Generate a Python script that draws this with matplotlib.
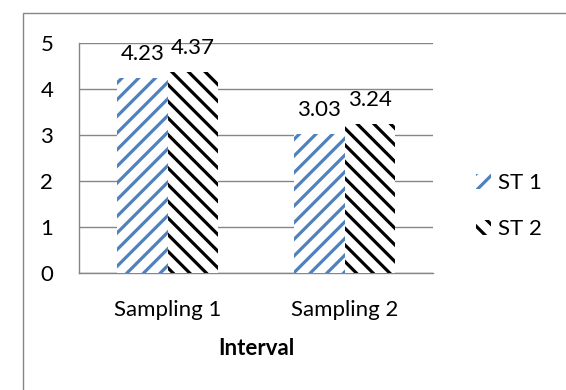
import matplotlib
matplotlib.use("Agg")
import matplotlib.pyplot as plt
from matplotlib.patches import Rectangle, Patch
import numpy as np

categories = ["Sampling 1", "Sampling 2"]
st1 = [4.23, 3.03]
st2 = [4.37, 3.24]
series_names = ["ST 1", "ST 2"]
yticks = [0, 1, 2, 3, 4, 5]
xlabel = "Interval"

plt.rcParams['font.family'] = ['Lato', 'DejaVu Sans']
plt.rcParams['hatch.linewidth'] = 2.3

FS = 16
W, H = 566, 390
fig = plt.figure(figsize=(W / 100, H / 100), dpi=100)
fig.patch.set_facecolor('white')

# outer chart frame
fig.add_artist(Rectangle((23 / W, -0.1), 1.2, 1 - 13 / H + 0.1,
                         transform=fig.transFigure, fill=False,
                         edgecolor='#868686', linewidth=1.0))

ax = fig.add_axes([79 / W, 1 - 272.7 / H, (433 - 79) / W, (272.7 - 43) / H])
grid_c = '#868686'
x = np.arange(len(categories))
bw = 0.285
blue = '#4F81BD'
b1 = ax.bar(x - bw / 2, st1, bw, facecolor='white', edgecolor=blue,
            hatch='//', linewidth=0, zorder=3)
b2 = ax.bar(x + bw / 2, st2, bw, facecolor='white', edgecolor='black',
            hatch='\\\\', linewidth=0, zorder=3)

for bars, vals in ((b1, st1), (b2, st2)):
    for r, v in zip(bars, vals):
        ax.annotate(f"{v:.2f}", (r.get_x() + r.get_width() / 2, v),
                    xytext=(0, 10), textcoords='offset points',
                    ha='center', va='bottom', fontsize=FS, zorder=4)

ax.set_xlim(-0.5, 1.5)
ax.set_ylim(0, 5)
ax.set_yticks(yticks)
ax.set_xticks(x)
ax.set_xticklabels(categories)
ax.yaxis.grid(True, color=grid_c, linewidth=1.0)
ax.set_axisbelow(True)
for s in ('top', 'right'):
    ax.spines[s].set_visible(False)
for s in ('left', 'bottom'):
    ax.spines[s].set_color(grid_c)
    ax.spines[s].set_linewidth(1.0)
ax.tick_params(axis='y', length=0, pad=18.5, labelsize=FS)
ax.tick_params(axis='x', length=0, pad=20, labelsize=FS)
ax.set_xlabel(xlabel, fontsize=FS, fontweight='bold', labelpad=12.5)

handles = [Patch(facecolor='white', edgecolor=blue, hatch='//', linewidth=0),
           Patch(facecolor='white', edgecolor='black', hatch='\\\\', linewidth=0)]
fig.legend(handles, series_names, loc='center left',
           bbox_to_anchor=(476 / W, 1 - 206 / H), frameon=False,
           fontsize=FS, handlelength=0.68, handleheight=0.68,
           handletextpad=0.32, labelspacing=1.17, borderpad=0,
           borderaxespad=0)

fig.savefig("out.png", dpi=100, facecolor='white')
